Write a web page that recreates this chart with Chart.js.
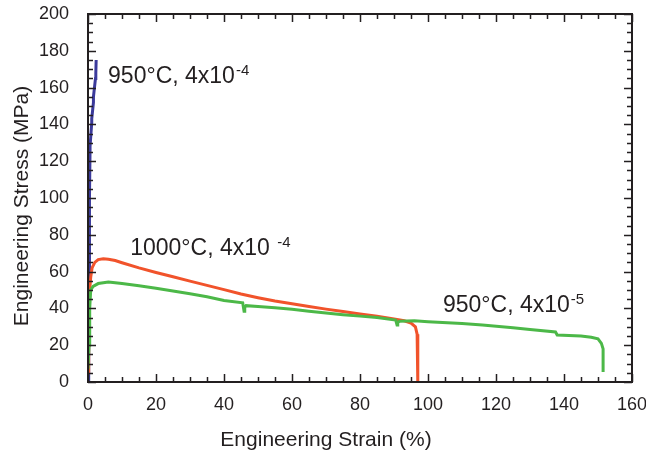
<!DOCTYPE html>
<html>
<head>
<meta charset="utf-8">
<script src="https://cdn.jsdelivr.net/npm/chart.js@4/dist/chart.umd.min.js"></script>
<style>
  body { margin: 0; background: #fff; }
</style>
</head>
<body>
<canvas id="myChart" width="646" height="456"></canvas>
<script>
// values: strain (%) and stress (MPa)
var blueStrain = [0.1, 0.2, 0.3, 0.4, 0.4, 0.5, 0.6, 0.6, 1.1, 1.1, 1.6, 1.6, 2.2, 2.3, 2.4];
var blueStress = [0, 25, 50, 60, 82, 100, 126, 128, 141, 143, 152, 155, 165, 168, 175];

var orangeStrain = [0, 0.2, 0.5, 0.8, 1.2, 2, 3, 4.5, 6, 8, 10, 15, 20, 25, 30, 35, 40, 45, 50, 55, 60, 65, 70, 75, 80, 85, 90, 93, 95, 96.3, 96.8, 97, 97];
var orangeStress = [5, 30, 50, 57, 62, 65, 66.5, 67, 66.7, 66, 64.8, 62, 59.5, 57.2, 54.8, 52.5, 50.2, 47.8, 45.8, 44, 42.5, 41, 39.6, 38.3, 37, 35.8, 34.2, 33.3, 32, 30, 26, 15, 0];

var greenStrain = [0, 0.3, 0.5, 0.8, 1.5, 3, 6, 8, 10, 15, 20, 25, 30, 35, 40, 45.5, 45.9, 46.1, 46.5, 50, 55, 60, 65, 70, 75, 80, 85, 90.5, 90.9, 91.1, 91.6, 96, 100, 110, 116, 125, 130, 137.5, 138, 145, 148, 150, 151, 151.5, 151.5];
var greenStress = [7, 20, 40, 50, 52, 53.5, 54.3, 54, 53.5, 52.3, 51, 49.5, 48, 46.3, 44.3, 43, 38.5, 40.5, 41.5, 41, 40.3, 39.5, 38.5, 37.5, 36.6, 35.8, 35, 33.7, 31, 32.3, 33, 33.3, 32.8, 31.8, 31, 29.5, 28.5, 27.2, 25.5, 25, 24.3, 23.5, 21, 18, 5.5];

var seriesLabels = ['950°C, 4x10', '1000°C, 4x10 ', '950°C, 4x10'];
var seriesExp = ['-4', '-4', '-5'];
// where each label sits, in data units (strain, stress at baseline)
var labelStrain = [5.9, 12.4, 104.4];
var labelStress = [162.5, 69, 38];

var xTicks = [0, 20, 40, 60, 80, 100, 120, 140, 160];
var yTicks = [0, 20, 40, 60, 80, 100, 120, 140, 160, 180, 200];

function pts(xs, ys) {
    return xs.map(function (v, i) { return { x: v, y: ys[i] }; });
}

var ink = '#231f20';
var font = "'Liberation Sans', Arial, sans-serif";

var framePlugin = {
    id: 'frame',
    afterDatasetsDraw: function (chart) {
        var ctx = chart.ctx, a = chart.chartArea;
        var xs = chart.scales.x, ys = chart.scales.y;
        ctx.save();
        ctx.strokeStyle = ink;
        ctx.lineWidth = 1.5;
        ctx.beginPath();
        for (var v = 0; v <= 160; v += 5) {
            var px = Math.round(xs.getPixelForValue(v)) + 0.5;
            var len = v % 20 ? 5 : 8;
            ctx.moveTo(px, a.bottom); ctx.lineTo(px, a.bottom - len);
            ctx.moveTo(px, a.top); ctx.lineTo(px, a.top + len);
        }
        for (var w = 0; w <= 200; w += 5) {
            var py = Math.round(ys.getPixelForValue(w)) + 0.5;
            var l2 = w % 20 ? 5 : 8;
            ctx.moveTo(a.left, py); ctx.lineTo(a.left + l2, py);
            ctx.moveTo(a.right, py); ctx.lineTo(a.right - l2, py);
        }
        ctx.stroke();
        ctx.lineWidth = 2;
        ctx.strokeRect(a.left, a.top, a.right - a.left, a.bottom - a.top);

        // series labels
        ctx.fillStyle = ink;
        ctx.textBaseline = 'alphabetic';
        ctx.textAlign = 'left';
        for (var i = 0; i < seriesLabels.length; i++) {
            var lx = xs.getPixelForValue(labelStrain[i]);
            var ly = ys.getPixelForValue(labelStress[i]);
            ctx.font = '23px ' + font;
            ctx.fillText(seriesLabels[i], lx, ly);
            var tw = ctx.measureText(seriesLabels[i]).width;
            ctx.font = '15px ' + font;
            ctx.fillText(seriesExp[i], lx + tw + 1, ly - 8);
        }

        // axis titles
        ctx.font = '21px ' + font;
        ctx.textAlign = 'center';
        ctx.textBaseline = 'middle';
        ctx.fillText('Engineering Strain (%)', 326, 440);
        ctx.translate(22, 206);
        ctx.rotate(-Math.PI / 2);
        ctx.fillText('Engineering Stress (MPa)', 0, 0);
        ctx.restore();
    }
};

function myLoadFunction() {
    const ctx = document.getElementById('myChart').getContext('2d');
    var myChartConfig = {
        type: 'scatter',
        data: {
            datasets: [{
                label: '950°C, 4x10-5',
                data: pts(greenStrain, greenStress),
                showLine: true,
                borderColor: '#4cb848',
                borderWidth: 3,
                pointRadius: 0
            }, {
                label: '1000°C, 4x10-4',
                data: pts(orangeStrain, orangeStress),
                showLine: true,
                borderColor: '#f1532b',
                borderWidth: 3,
                pointRadius: 0
            }, {
                label: '950°C, 4x10-4',
                data: pts(blueStrain, blueStress),
                showLine: true,
                borderColor: '#3b3a9b',
                borderWidth: 3,
                pointRadius: 0
            }]
        },
        options: {
            responsive: false,
            animation: false,
            layout: { padding: { top: 14, right: 14, left: 0, bottom: 0 } },
            plugins: { legend: { display: false }, tooltip: { enabled: false } },
            scales: {
                x: {
                    type: 'linear',
                    min: 0, max: 160,
                    afterBuildTicks: function (s) { s.ticks = xTicks.map(function (v) { return { value: v }; }); },
                    afterFit: function (s) { s.height = 74; s.paddingLeft = 0; s.paddingRight = 0; },
                    grid: { display: false },
                    border: { display: false },
                    ticks: { color: ink, font: { family: font, size: 18 }, padding: 4, maxRotation: 0 }
                },
                y: {
                    min: 0, max: 200,
                    afterBuildTicks: function (s) { s.ticks = yTicks.map(function (v) { return { value: v }; }); },
                    afterFit: function (s) { s.width = 88; s.paddingTop = 0; s.paddingBottom = 0; },
                    grid: { display: false },
                    border: { display: false },
                    ticks: { color: ink, font: { family: font, size: 18 }, padding: 11 }
                }
            }
        },
        plugins: [framePlugin]
    };

    const myChart = new Chart(ctx, myChartConfig);
}

document.addEventListener('DOMContentLoaded', myLoadFunction);
</script>
</body>
</html>
